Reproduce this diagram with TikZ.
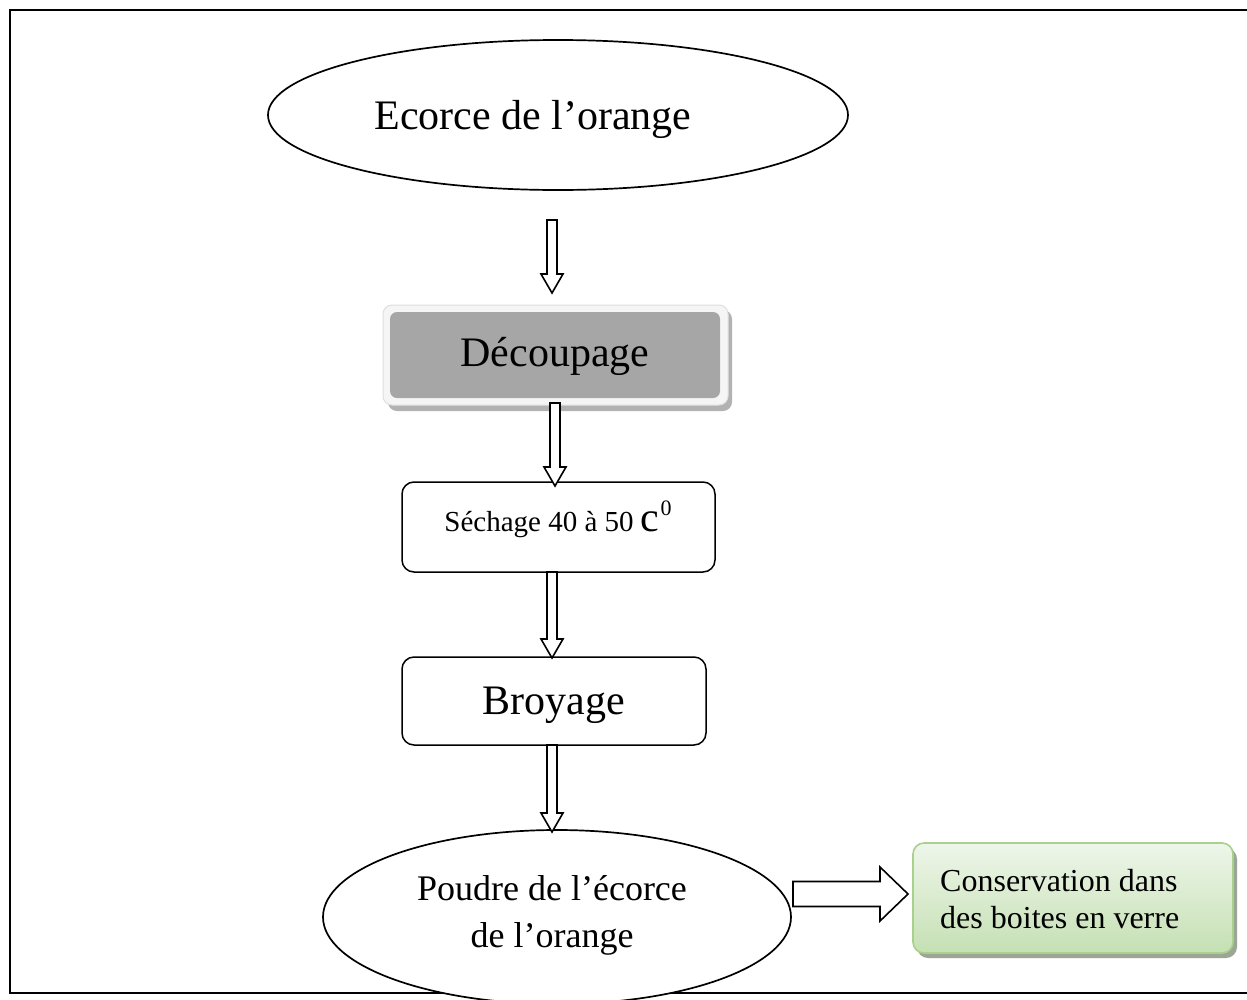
\documentclass[tikz,border=0pt]{standalone}
\usepackage{fontspec}
\setmainfont{Liberation Serif}
\usetikzlibrary{shapes.geometric,calc}
\definecolor{dgray}{HTML}{A6A6A6}
\definecolor{gbord}{HTML}{A9D18E}
\definecolor{gtop}{HTML}{EEF6E9}
\definecolor{gbot}{HTML}{C5E0B4}
\definecolor{gshad}{HTML}{9CA697}
\newcommand{\vblock}[2]{\draw[barr] let \p1=(#1), \p2=(#2) in
  (\x1-5pt,\y1) -- (\x1+5pt,\y1) -- (\x1+5pt,\y2+19pt) -- (\x1+11pt,\y2+19pt) -- (\x1,\y2)
  -- (\x1-11pt,\y2+19pt) -- (\x1-5pt,\y2+19pt) -- cycle;}
\newcommand{\hblock}[2]{\draw[barr] let \p1=(#1), \p2=(#2) in
  (\x1,\y1+12.5pt) -- (\x2-28pt,\y1+12.5pt) -- (\x2-28pt,\y1+27pt) -- (\x2,\y1)
  -- (\x2-28pt,\y1-27pt) -- (\x2-28pt,\y1-12.5pt) -- (\x1,\y1-12.5pt) -- cycle;}
\begin{document}
\begin{tikzpicture}[x=1pt,y=-1pt,
  ell/.style={draw, ellipse, line width=1.7pt, fill=white, inner sep=0pt},
  rbox/.style={draw, rounded corners=12pt, line width=1.5pt, fill=white, inner sep=0pt},
  barr/.style={draw, line width=1.6pt, fill=white, line join=miter},
  big/.style={font=\fontsize{42}{48}\selectfont, inner sep=0pt},
  mid/.style={font=\fontsize{36}{40}\selectfont, inner sep=0pt},
  sml/.style={font=\fontsize{32}{36}\selectfont, inner sep=0pt}]
\useasboundingbox (0,0) rectangle (1247,999);
\fill[white] (0,0) rectangle (1247,999);
\draw[line width=2.8pt] (1260,10) -- (10,10) -- (10,993) -- (1260,993);

% top ellipse
\node[ell, minimum width=580pt, minimum height=150pt] (e1) at (558,115) {};
\node[big, anchor=base] (t1) at (533,129) {Ecorce de l’orange};

% Decoupage
\fill[gray!60, rounded corners=9pt] (388,310) rectangle (732,411);
\node[draw=gray!25, fill=gray!8, line width=1pt, rounded corners=9pt, minimum width=345pt, minimum height=100pt] (decout) at (555.5,355) {};
\node[fill=dgray, rounded corners=7pt, minimum width=330pt, minimum height=86pt] (dec) at (555,355) {};
\node[big, anchor=base] (tdec) at (555,366) {Découpage};

% Sechage
\node[rbox, minimum width=313pt, minimum height=90pt] (sech) at (558.5,527) {};
\node[inner sep=0pt, anchor=base] (tsech) at (558,531) {\fontsize{29}{34}\selectfont Séchage 40 à 50 \fontsize{42}{48}\selectfont c\hspace{1pt}\raisebox{16pt}{\fontsize{22}{24}\selectfont 0}};

% Broyage
\node[rbox, minimum width=304pt, minimum height=88pt] (broy) at (554,701) {};
\node[big, anchor=base] (tbroy) at (554,714) {Broyage};

% bottom ellipse
\node[ell, minimum width=468pt, minimum height=174pt] (e2) at (557,917) {};
\node[mid, anchor=base] (tp1) at (552,900) {Poudre de l’écorce};
\node[mid, anchor=base] (tp2) at (552,947) {de l’orange};

% green box
\fill[gshad, rounded corners=11pt] (917,848) rectangle (1237,958);
\node[draw=gbord, line width=1.6pt, top color=gtop, bottom color=gbot, rounded corners=11pt, minimum width=320pt, minimum height=110pt] (cons) at (1073,898) {};
\node[sml, anchor=base west] (tc1) at (940,891) {Conservation dans};
\node[sml, anchor=base west] (tc2) at (940,928) {des boites en verre};

% arrows
\coordinate (a1s) at (552,220); \coordinate (a1e) at (552,293);
\coordinate (a2s) at (555,403); \coordinate (a2e) at (555,486);
\coordinate (a3s) at (552,572); \coordinate (a3e) at (552,658);
\coordinate (a4s) at (552,745); \coordinate (a4e) at (552,832);
\coordinate (h1s) at (793,894); \coordinate (h1e) at (908,894);
\vblock{a1s}{a1e}
\vblock{a2s}{a2e}
\vblock{a3s}{a3e}
\vblock{a4s}{a4e}
\hblock{h1s}{h1e}
\end{tikzpicture}
\end{document}
